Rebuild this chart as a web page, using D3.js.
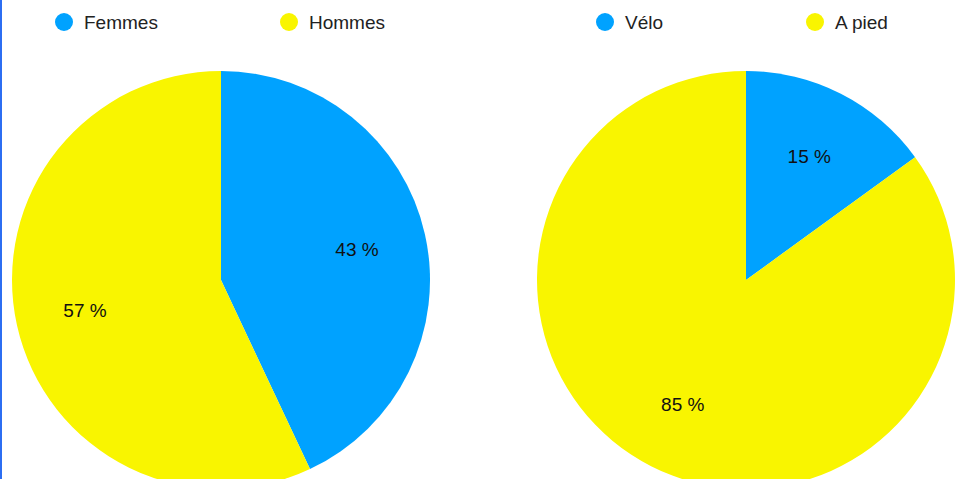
<!DOCTYPE html>
<html>
<head>
<meta charset="UTF-8">
<title>Pies</title>
<script src="https://d3js.org/d3.v7.min.js"></script>
<style>
  body { margin: 0; background: #fff; }
  svg { display: block; font-family: "Liberation Sans", Arial, sans-serif; }
</style>
</head>
<body>
<script>
// data
var leftCategories = ["Femmes", "Hommes"];
var leftValues = [43, 57];
var rightCategories = ["Vélo", "A pied"];
var rightValues = [15, 85];
var colors = ["#00a2ff", "#f9f500"];

var width = 960, height = 479;
var radius = 209;

var svg = d3.select("body").append("svg")
  .attr("width", width).attr("height", height);

// fine blue edge on the left side
svg.append("rect").attr("x", 0).attr("y", 0)
  .attr("width", 2).attr("height", height).attr("fill", "#2c6ef2");

var pie = d3.pie().sort(null);
var arc = d3.arc().innerRadius(0).outerRadius(radius);
var labelArc = d3.arc().innerRadius(radius * 2 / 3).outerRadius(radius * 2 / 3);

function drawPie(cx, cy, cats, vals, legendX) {
  var g = svg.append("g").attr("transform", "translate(" + cx + "," + cy + ")");
  var arcs = pie(vals);

  g.selectAll("path").data(arcs).enter().append("path")
    .attr("d", arc)
    .attr("fill", function (d, i) { return colors[i]; });

  g.selectAll("text").data(arcs).enter().append("text")
    .attr("transform", function (d) { return "translate(" + labelArc.centroid(d) + ")"; })
    .attr("text-anchor", "middle")
    .attr("dy", "0.35em")
    .attr("font-size", 19)
    .attr("fill", "#111")
    .text(function (d) { return d.data + " %"; });

  // legend
  var lg = svg.append("g").attr("transform", "translate(0,22)");
  var items = lg.selectAll("g").data(cats).enter().append("g")
    .attr("transform", function (d, i) { return "translate(" + legendX[i] + ",0)"; });
  items.append("circle").attr("r", 9)
    .attr("fill", function (d, i) { return colors[i]; });
  items.append("text").attr("x", 20).attr("dy", "0.35em")
    .attr("font-size", 19).attr("fill", "#222")
    .text(function (d) { return d; });
}

drawPie(221, 280, leftCategories, leftValues, [64, 289]);
drawPie(746, 280, rightCategories, rightValues, [605, 815]);
</script>
</body>
</html>
